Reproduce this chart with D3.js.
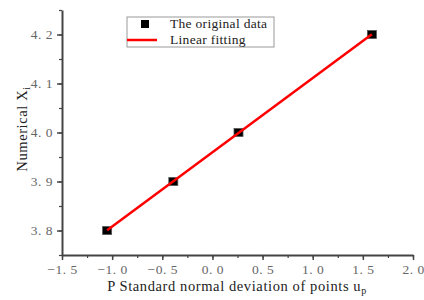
<!DOCTYPE html>
<html>
<head>
<meta charset="utf-8">
<script src="https://cdn.jsdelivr.net/npm/d3@7"></script>
<style>
  body { margin: 0; background: #fff; }
</style>
</head>
<body>
<div id="wrapper"></div>
<script>
// data
const xValues = [-1.05, -0.39, 0.26, 1.59];
const yValues = [3.8, 3.9, 4.0, 4.2];
const xTicks = [-1.5, -1.0, -0.5, 0.0, 0.5, 1.0, 1.5, 2.0];
const yTicks = [3.8, 3.9, 4.0, 4.1, 4.2];
const legendLabels = ["The original data", "Linear fitting"];

const serif = "Liberation Serif";

function buildPlot() {
    const data = xValues.map((x, i) => ({ x: x, y: yValues[i] }));

    const dimension = {
        width: 424,
        height: 300,
        margin: { top: 10, left: 62, bottom: 45, right: 11 }
    };
    dimension.boundedWidth = dimension.width - dimension.margin.left - dimension.margin.right;
    dimension.boundedHeight = dimension.height - dimension.margin.top - dimension.margin.bottom;

    const svg = d3.select("#wrapper").append("svg")
        .attr("width", dimension.width)
        .attr("height", dimension.height);

    const bounded = svg.append("g")
        .attr("transform", `translate(${dimension.margin.left},${dimension.margin.top})`);

    const xScaler = d3.scaleLinear().domain([-1.5, 2.0]).range([0, dimension.boundedWidth]);
    const yScaler = d3.scaleLinear().domain([3.75, 4.25]).range([dimension.boundedHeight, 0]);

    // tick labels like "4. 2", "−1. 5"
    const fmt = (d) => d3.format(".1f")(d).replace(".", ". ").replace("-", "−");

    // minor ticks
    const xMinor = d3.range(-1.5, 2.01, 0.25);
    const yMinor = d3.range(3.75, 4.251, 0.05);

    bounded.append("g")
        .attr("transform", `translate(0,${dimension.boundedHeight})`)
        .call(d3.axisBottom(xScaler).tickValues(xMinor).tickSize(3).tickFormat(""))
        .call(g => g.select(".domain").remove())
        .selectAll("line").attr("stroke", "#444").attr("stroke-width", 1.2);
    bounded.append("g")
        .call(d3.axisLeft(yScaler).tickValues(yMinor).tickSize(3).tickFormat(""))
        .call(g => g.select(".domain").remove())
        .selectAll("line").attr("stroke", "#444").attr("stroke-width", 1.2);

    const xAxis = bounded.append("g")
        .attr("transform", `translate(0,${dimension.boundedHeight})`)
        .call(d3.axisBottom(xScaler).tickValues(xTicks).tickSize(5).tickSizeOuter(0).tickPadding(4).tickFormat(fmt));
    const yAxis = bounded.append("g")
        .call(d3.axisLeft(yScaler).tickValues(yTicks).tickSize(5).tickSizeOuter(0).tickPadding(4).tickFormat(fmt));

    [xAxis, yAxis].forEach(ax => {
        ax.attr("font-family", serif).attr("font-size", 13.5);
        ax.select(".domain").attr("stroke", "#444").attr("stroke-width", 2);
        ax.selectAll(".tick line").attr("stroke", "#444").attr("stroke-width", 1.5);
        ax.selectAll(".tick text").attr("fill", "#666").attr("letter-spacing", 0.5);
    });

    // least squares fit through the data
    const mx = d3.mean(data, d => d.x);
    const my = d3.mean(data, d => d.y);
    const slope = d3.sum(data, d => (d.x - mx) * (d.y - my)) / d3.sum(data, d => (d.x - mx) ** 2);
    const intercept = my - slope * mx;
    const fitEnds = d3.extent(xValues).map(x => ({ x: x, y: intercept + slope * x }));

    const lineGenerator = d3.line()
        .x(d => xScaler(d.x))
        .y(d => yScaler(d.y));

    bounded.selectAll(".pt")
        .data(data)
        .join("rect")
        .attr("class", "pt")
        .attr("x", d => xScaler(d.x) - 4.5)
        .attr("y", d => yScaler(d.y) - 4)
        .attr("width", 9)
        .attr("height", 8)
        .attr("fill", "#000")
        .attr("stroke", "#555")
        .attr("stroke-width", 0.8);

    bounded.append("path")
        .attr("d", lineGenerator(fitEnds))
        .attr("fill", "none")
        .attr("stroke", "#ff0000")
        .attr("stroke-width", 2.5);

    // legend
    const legend = svg.append("g").attr("transform", "translate(127,17)");
    legend.append("rect")
        .attr("width", 147).attr("height", 30)
        .attr("fill", "#fff").attr("stroke", "#999").attr("stroke-width", 1);
    legend.append("rect")
        .attr("x", 14).attr("y", 3).attr("width", 8).attr("height", 8)
        .attr("fill", "#000");
    legend.append("line")
        .attr("x1", 0).attr("x2", 30).attr("y1", 23).attr("y2", 23)
        .attr("stroke", "#ff0000").attr("stroke-width", 2.5);
    legend.selectAll(".lbl")
        .data(legendLabels)
        .join("text")
        .attr("class", "lbl")
        .attr("x", 43)
        .attr("y", (d, i) => 11 + i * 16)
        .attr("font-family", serif)
        .attr("font-size", 13.5)
        .attr("letter-spacing", 0.3)
        .attr("fill", "#222")
        .text(d => d);

    // axis titles
    const xTitle = svg.append("text")
        .attr("x", 237).attr("y", 291)
        .attr("text-anchor", "middle")
        .attr("font-family", serif)
        .attr("font-size", 14.5)
        .attr("letter-spacing", 0.6)
        .attr("fill", "#222");
    xTitle.append("tspan").text("P Standard normal deviation of points u");
    xTitle.append("tspan").attr("dy", 3).attr("font-size", 10).text("p");

    const yTitle = svg.append("text")
        .attr("transform", "translate(27,129) rotate(-90)")
        .attr("text-anchor", "middle")
        .attr("font-family", serif)
        .attr("font-size", 14.5)
        .attr("letter-spacing", 0.6)
        .attr("fill", "#222");
    yTitle.append("tspan").text("Numerical X");
    yTitle.append("tspan").attr("dy", 3).attr("font-size", 10).text("i");
}

buildPlot();
</script>
</body>
</html>
